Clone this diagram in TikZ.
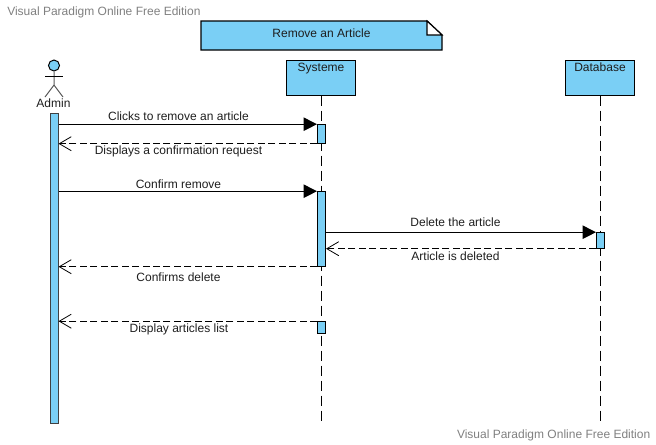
\documentclass[tikz,border=0pt]{standalone}
\usepackage{fontspec}
\setmainfont{Liberation Sans}
\usepackage{xcolor}
\usetikzlibrary{arrows.meta, positioning}

\begin{document}
\begin{tikzpicture}[x=0.75pt, y=-0.75pt, font=\fontsize{9}{11}\selectfont]
    % Define colors
    \definecolor{barcolor}{RGB}{122, 207, 245}
    \definecolor{markcolor}{RGB}{128, 128, 128}
    \definecolor{textcolor}{RGB}{30, 30, 30}

    % Define styles
    \tikzset{
      lifebox/.style={draw=black, fill=barcolor, line width=0.75pt, minimum width=69*0.75pt, minimum height=35*0.75pt, inner sep=0pt},
      actbar/.style={draw=black, fill=barcolor, line width=0.75pt, minimum width=8*0.75pt, inner sep=0pt},
      lifeline/.style={draw=black, line width=0.75pt, dash pattern=on 7.5pt off 3.75pt},
      callmsg/.style={draw=black, line width=0.75pt, -{Triangle[length=10pt, width=10pt]}},
      replymsg/.style={draw=black, line width=0.75pt, dash pattern=on 5.25pt off 2.6pt, -{Straight Barb[length=9pt, width=10.5pt, line width=0.6pt]}},
      msgtext/.style={text=textcolor, inner sep=0pt},
      watermark/.style={text=markcolor, inner sep=0pt}
    }

    \useasboundingbox (0,0) rectangle (656,444);

    % Watermarks
    \node[watermark, anchor=west] (markTop) at (7,12) {Visual Paradigm Online Free Edition};
    \node[watermark, anchor=east] (markBottom) at (650.5,435) {Visual Paradigm Online Free Edition};

    % Title note
    \draw[fill=barcolor, line width=1.1pt] (201,21) -- (427,21) -- (442,35) -- (442,50) -- (201,50) -- cycle;
    \draw[fill=white, line width=0.8pt] (427,21) -- (442,35) -- (427,35) -- cycle;
    \node[msgtext] (title) at (321.5,33.5) {Remove an Article};

    % Lifeline heads
    \coordinate (sysEnd) at (321.5,424);
    \coordinate (dbEnd) at (600.5,424);
    \node[lifebox] (sys) at (321,77.5) {};
    \node[lifebox] (db) at (600,77.5) {};
    \node[msgtext, anchor=base] (sysLabel) at (321,71) {Systeme};
    \node[msgtext, anchor=base] (dbLabel) at (600,71) {Database};
    \draw[lifeline] (sysEnd |- sys.south) -- (sysEnd);
    \draw[lifeline] (dbEnd |- db.south) -- (dbEnd);

    % Actor
    \node[circle, draw=black, fill=barcolor, line width=0.75pt, minimum size=11*0.75pt, inner sep=0pt] (head) at (54,65.5) {};
    \coordinate (armL) at (45,76.3);
    \coordinate (armR) at (63,76.3);
    \coordinate (hip) at (54,85);
    \coordinate (legL) at (45,97);
    \coordinate (legR) at (63,97);
    \draw[draw=black!65, line width=0.75pt] (head.south) -- (hip) (legL) -- (hip) -- (legR);
    \draw[line width=0.75pt] (armL) -- (armR);
    \node[text=textcolor, inner sep=0pt] (admin) at (53.5,103) {Admin};

    % Activation bars
    \node[actbar, minimum height=310*0.75pt, draw=black!75] (adminBar) at (54,268.4) {};
    \node[actbar, minimum height=18.5*0.75pt] (sysBarA) at (321.5,133.95) {};
    \node[actbar, minimum height=74.5*0.75pt] (sysBarB) at (321.5,228.95) {};
    \node[actbar, minimum height=12*0.75pt] (sysBarC) at (321.5,327.7) {};
    \node[actbar, minimum height=15.5*0.75pt] (dbBar) at (600.5,240.45) {};

    % Messages
    \draw[callmsg] (adminBar.east |- sysBarA.north) -- (sysBarA.north west);
    \draw[replymsg] (sysBarA.south west) -- (adminBar.east |- sysBarA.south);
    \draw[callmsg] (adminBar.east |- sysBarB.north) -- (sysBarB.north west);
    \draw[callmsg] (sysBarB.east |- dbBar.north) -- (dbBar.north west);
    \draw[replymsg] (dbBar.south west) -- (sysBarB.east |- dbBar.south);
    \draw[replymsg] (sysBarB.south west) -- (adminBar.east |- sysBarB.south);
    \draw[replymsg] (sysBarC.north west) -- (adminBar.east |- sysBarC.north);

    % Message labels
    \node[msgtext] (clickText) at (178.5,116) {Clicks to remove an article};
    \node[msgtext] (askText) at (178.5,151) {Displays a confirmation request};
    \node[msgtext] (confirmText) at (178.5,184) {Confirm remove};
    \node[msgtext] (deleteText) at (455.5,222) {Delete the article};
    \node[msgtext] (deletedText) at (455.5,256) {Article is deleted};
    \node[msgtext] (confirmsText) at (178.5,277) {Confirms delete};
    \node[msgtext] (listText) at (179,329) {Display articles list};

  \end{tikzpicture}
\end{document}
